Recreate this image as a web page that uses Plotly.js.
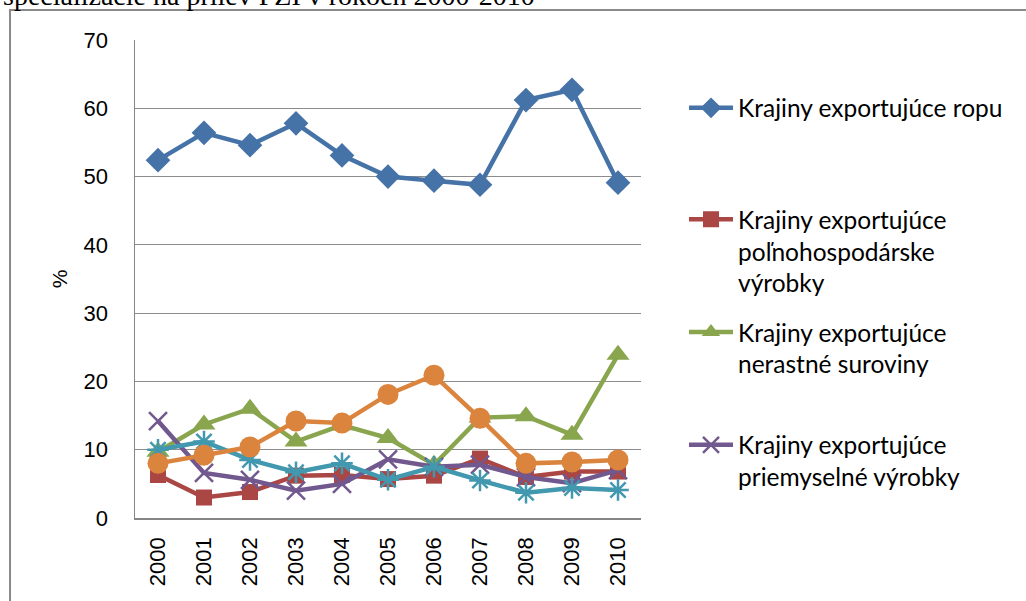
<!DOCTYPE html>
<html>
<head>
<meta charset="utf-8">
<script src="https://cdn.plot.ly/plotly-3.0.1.min.js"></script>
<style>html,body{margin:0;padding:0;background:#fff;overflow:hidden}#chart{width:1026px;height:601px}</style>
</head>
<body>
<div id="chart"></div>
<script>
const years = ['2000','2001','2002','2003','2004','2005','2006','2007','2008','2009','2010'];
const ropu = [52.4, 56.4, 54.6, 57.8, 53.1, 50.0, 49.4, 48.8, 61.2, 62.7, 49.1];
const polnohosp = [6.3, 3.0, 3.8, 6.2, 6.3, 5.7, 6.2, 8.7, 6.0, 6.8, 6.8];
const nerastne = [9.7, 13.7, 16.0, 11.2, 13.6, 11.7, 7.8, 14.7, 14.9, 12.2, 23.9];
const priemyselne = [14.2, 6.6, 5.6, 4.0, 5.0, 8.6, 7.5, 7.8, 6.0, 5.1, 7.0];
const series5 = [10.0, 11.2, 8.5, 6.7, 8.0, 5.6, 7.5, 5.5, 3.7, 4.4, 4.1];
const series6 = [8.0, 9.2, 10.4, 14.2, 13.9, 18.1, 20.9, 14.6, 8.0, 8.2, 8.5];

const names = [
  'Krajiny exportujúce ropu',
  'Krajiny exportujúce<br>poľnohospodárske<br>výrobky',
  'Krajiny exportujúce<br>nerastné suroviny',
  'Krajiny exportujúce<br>priemyselné výrobky',
  'Krajiny exportujúce služby',
  'Ostatné krajiny'
];

const LW = 4.5;
const traces = [
  {x: years, y: ropu, name: names[0], legend: 'legend',
   line: {color: '#4572A7', width: LW}, marker: {symbol: 'diamond', size: 19, color: '#4572A7'}},
  {x: years, y: polnohosp, name: names[1], legend: 'legend2',
   line: {color: '#AA4643', width: LW}, marker: {symbol: 'square', size: 16, color: '#AA4643'}},
  {x: years, y: nerastne, name: names[2], legend: 'legend3',
   line: {color: '#89A54E', width: LW}, marker: {symbol: 'triangle-up', size: 20, color: '#89A54E'}},
  {x: years, y: priemyselne, name: names[3], legend: 'legend4',
   line: {color: '#71588F', width: LW}, marker: {symbol: 'x-thin', size: 18, color: '#71588F', line: {color: '#71588F', width: 2.5}}},
  {x: years, y: series5, name: names[4], showlegend: false,
   line: {color: '#4198AF', width: LW}, marker: {symbol: 'asterisk', size: 18, color: '#4198AF', line: {color: '#4198AF', width: 2.5}}},
  {x: years, y: series6, name: names[5], showlegend: false,
   line: {color: '#DB843D', width: LW}, marker: {symbol: 'circle', size: 21, color: '#DB843D'}}
].map(t => Object.assign({type: 'scatter', mode: 'lines+markers', cliponaxis: false}, t));

const legFont = {family: 'Lato, "Open Sans", sans-serif', size: 24.5, color: '#000'};
const legBase = {font: legFont, bgcolor: 'rgba(0,0,0,0)', xanchor: 'left', yanchor: 'top', valign: 'top', itemwidth: 44, traceorder: 'normal'};
const LX = 1.085;

const layout = {
  width: 1026, height: 601,
  margin: {l: 135, r: 385, t: 40, b: 83},
  paper_bgcolor: '#fff', plot_bgcolor: '#fff',
  font: {family: '"Liberation Sans", Arial, sans-serif', color: '#000'},
  xaxis: {
    type: 'category', range: [-0.5, 10.5], showgrid: false, zeroline: false,
    showline: true, linecolor: '#868686', linewidth: 1.5,
    ticks: '', tickangle: -90, ticklabelstandoff: 9,
    tickfont: {size: 22, family: '"Liberation Sans", Arial, sans-serif', color: '#000'}
  },
  yaxis: {
    range: [0, 70], dtick: 10, tick0: 0,
    showgrid: true, gridcolor: '#8c8c8c', gridwidth: 1,
    zeroline: false, showline: true, linecolor: '#868686', linewidth: 1.5,
    ticks: '', ticklabelstandoff: 21,
    tickfont: {size: 22, family: '"Liberation Sans", Arial, sans-serif', color: '#000'},
    title: {text: '%', font: {size: 21, family: '"Liberation Sans", Arial, sans-serif', color: '#000'}, standoff: 10}
  },
  legend: Object.assign({}, legBase, {x: LX, y: 0.905}),
  legend2: Object.assign({}, legBase, {x: LX, y: 0.672}),
  legend3: Object.assign({}, legBase, {x: LX, y: 0.436}),
  legend4: Object.assign({}, legBase, {x: LX, y: 0.2}),
  showlegend: true,
  shapes: [
    {type: 'rect', xref: 'paper', yref: 'paper', x0: -0.247, x1: 2.0, y0: -0.5, y1: 1.063,
     line: {color: '#8a8a8a', width: 2}, fillcolor: 'rgba(0,0,0,0)', layer: 'below'}
  ],
  annotations: [
    {text: 'špecializácie na prílev PZI v rokoch 2000-2010', xref: 'paper', yref: 'paper',
     x: -0.263, y: 1.058, xanchor: 'left', yanchor: 'bottom', showarrow: false, borderpad: 0,
     font: {family: '"Liberation Serif", "Times New Roman", serif', size: 28, color: '#000'}}
  ]
};

Plotly.newPlot('chart', traces, layout, {displayModeBar: false, staticPlot: true});
</script>
</body>
</html>
